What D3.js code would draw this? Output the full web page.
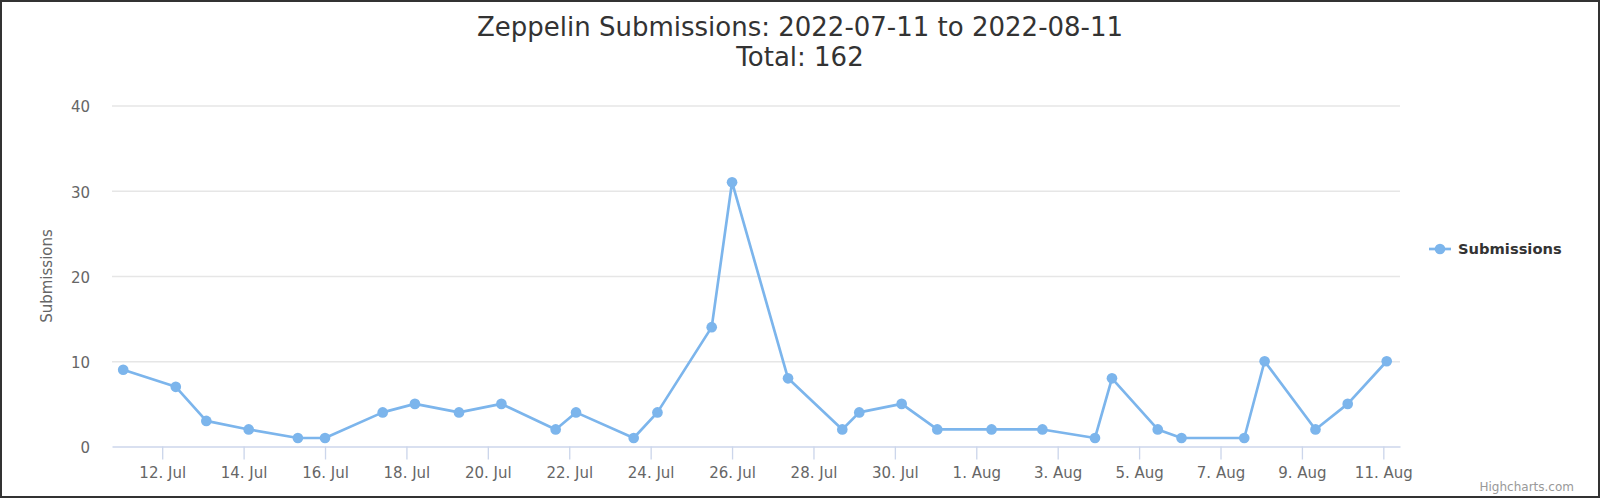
<!DOCTYPE html>
<html>
<head>
<meta charset="utf-8">
<script src="https://cdn.jsdelivr.net/npm/d3@7"></script>
<style>
  html, body { margin: 0; padding: 0; background: #fff; }
  svg { display: block; font-family: "DejaVu Sans", sans-serif; }
</style>
</head>
<body>
<svg id="chart" width="1600" height="498"></svg>
<script>
// ---- data ----
const titleLines = ["Zeppelin Submissions: 2022-07-11 to 2022-08-11", "Total: 162"];
const seriesName = "Submissions";
const yAxisTitle = "Submissions";
const creditsText = "Highcharts.com";
const timestamps = [
  "2022-07-11T01:00Z", "2022-07-12T08:00Z", "2022-07-13T02:00Z", "2022-07-14T03:00Z",
  "2022-07-15T08:00Z", "2022-07-16T00:00Z", "2022-07-17T10:00Z", "2022-07-18T05:00Z",
  "2022-07-19T07:00Z", "2022-07-20T08:00Z", "2022-07-21T16:00Z", "2022-07-22T04:00Z",
  "2022-07-23T14:00Z", "2022-07-24T04:00Z", "2022-07-25T12:00Z", "2022-07-26T00:00Z",
  "2022-07-27T09:00Z", "2022-07-28T17:00Z", "2022-07-29T03:00Z", "2022-07-30T04:00Z",
  "2022-07-31T01:00Z", "2022-08-01T09:00Z", "2022-08-02T15:00Z", "2022-08-03T22:00Z",
  "2022-08-04T08:00Z", "2022-08-05T11:00Z", "2022-08-06T01:00Z", "2022-08-07T14:00Z",
  "2022-08-08T02:00Z", "2022-08-09T08:00Z", "2022-08-10T03:00Z", "2022-08-11T02:00Z"
];
const submissions = [9, 7, 3, 2, 1, 1, 4, 5, 4, 5, 2, 4, 1, 4, 14, 31, 8, 2, 4, 5, 2, 2, 2, 1, 8, 2, 1, 1, 10, 2, 5, 10];
const xDomain = ["2022-07-10T18:24Z", "2022-08-11T09:50Z"];
const xTickDates = ["2022-07-12", "2022-07-14", "2022-07-16", "2022-07-18", "2022-07-20", "2022-07-22",
  "2022-07-24", "2022-07-26", "2022-07-28", "2022-07-30", "2022-08-01", "2022-08-03",
  "2022-08-05", "2022-08-07", "2022-08-09", "2022-08-11"];
const yTicks = [0, 10, 20, 30, 40];

// ---- layout ----
const W = 1600, H = 498;
const plot = { left: 112, right: 1400, top: 105.5, bottom: 446.5 };
const color = "#7cb5ec";
const font = "'DejaVu Sans', sans-serif";

const svg = d3.select("#chart");

// border
svg.append("rect").attr("x", 1).attr("y", 1).attr("width", W - 2).attr("height", H - 2)
  .attr("fill", "#fff").attr("stroke", "#333").attr("stroke-width", 2);

const x = d3.scaleUtc().domain(xDomain.map(d => new Date(d))).range([plot.left, plot.right]);
const y = d3.scaleLinear().domain([0, 40]).range([plot.bottom, plot.top]);

// title
svg.append("g").selectAll("text").data(titleLines).join("text")
  .attr("x", 800).attr("y", (d, i) => 26.5 + i * 30.5)
  .attr("dy", "0.35em")
  .attr("text-anchor", "middle")
  .attr("font-size", 26).attr("fill", "#333333")
  .text(d => d);

// grid lines + y labels
const yAxis = d3.axisLeft(y).tickValues(yTicks).tickSize(-(plot.right - plot.left)).tickPadding(22);
const gy = svg.append("g").attr("transform", `translate(${plot.left},0)`).call(yAxis);
gy.select(".domain").remove();
gy.selectAll(".tick line").attr("stroke", "#e6e6e6").attr("stroke-width", 1.33);
gy.selectAll(".tick text").attr("font-size", 15).attr("fill", "#666666")
  .attr("font-family", font).attr("dy", "0.42em");
gy.selectAll(".tick").filter(d => d === 0).select("line").remove();

// y axis title
svg.append("text")
  .attr("transform", `translate(46.5,${(plot.top + plot.bottom) / 2}) rotate(-90)`)
  .attr("text-anchor", "middle").attr("dy", "0.35em")
  .attr("font-size", 15).attr("fill", "#666666")
  .text(yAxisTitle);

// x axis
const xAxis = d3.axisBottom(x)
  .tickValues(xTickDates.map(d => new Date(d + "T00:00Z")))
  .tickFormat(d3.utcFormat("%-d. %b"))
  .tickSize(13).tickSizeOuter(0).tickPadding(8);
const gx = svg.append("g").attr("transform", `translate(0,${plot.bottom})`).call(xAxis);
gx.select(".domain").attr("stroke", "#ccd6eb").attr("stroke-width", 1.33);
gx.selectAll(".tick line").attr("stroke", "#ccd6eb").attr("stroke-width", 1.33);
gx.selectAll(".tick text").attr("font-size", 15).attr("fill", "#666666")
  .attr("font-family", font);

// series
const pts = timestamps.map((t, i) => ({ t: new Date(t), v: submissions[i] }));
const line = d3.line().x(d => x(d.t)).y(d => y(d.v));
svg.append("path").datum(pts)
  .attr("d", line).attr("fill", "none")
  .attr("stroke", color).attr("stroke-width", 2.67)
  .attr("stroke-linejoin", "round").attr("stroke-linecap", "round");
svg.append("g").selectAll("circle").data(pts).join("circle")
  .attr("cx", d => x(d.t)).attr("cy", d => y(d.v)).attr("r", 5.33)
  .attr("fill", color);

// legend
const lg = svg.append("g").attr("transform", "translate(1429,249)");
lg.append("line").attr("x1", 0).attr("x2", 22).attr("y1", 0).attr("y2", 0)
  .attr("stroke", color).attr("stroke-width", 2.67);
lg.append("circle").attr("cx", 11).attr("cy", 0).attr("r", 5.33).attr("fill", color);
lg.append("text").attr("x", 29).attr("y", 0).attr("dy", "0.35em")
  .attr("font-size", 14.7).attr("font-weight", "bold").attr("fill", "#333333")
  .text(seriesName);

// credits
svg.append("text").attr("x", 1574).attr("y", 487).attr("dy", "0.35em")
  .attr("text-anchor", "end").attr("font-size", 12).attr("fill", "#999999")
  .text(creditsText);
</script>
</body>
</html>
